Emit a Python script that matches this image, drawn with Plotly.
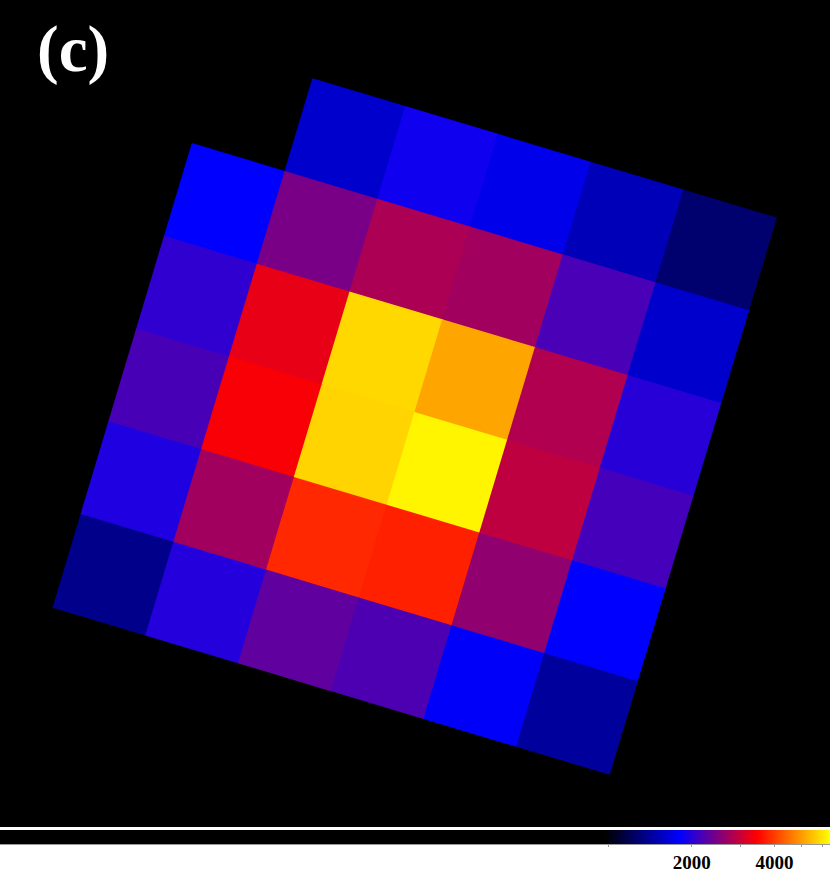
import numpy as np
import plotly.graph_objects as go

# counts per detector pixel, row 0 is the top row, None = no pixel
row0 = [None, 1600, 1880, 1720, 1520, 1270]
row1 = [1810, 2460, 2790, 2720, 2180, 1600]
row2 = [2040, 3260, 5800, 5130, 2830, 2000]
row3 = [2170, 3400, 5740, 6220, 2940, 2150]
row4 = [1960, 2720, 3800, 3730, 2610, 1810]
row5 = [1360, 1980, 2310, 2200, 1790, 1420]

cbar_ticks = [1000, 2000, 3000, 4000, 5000, 6000]
cbar_labels = ["", "2000", "", "4000", "", ""]
cbar_range = [6.1, 6370]

W, H = 830, 873
img_bottom = 827          # black image area ends here (px)
cell_px = 96.8            # size of one detector pixel on screen
angle = 16.7              # roll of the detector grid, clockwise
origin = (220, 51)        # screen position of the grid corner
serif = "Liberation Serif, Times New Roman, serif"

# ds9 "b" colormap, stretched by the contrast setting
cmap = [[0.0, "#000000"], [0.729, "#000000"], [0.819, "#0000ff"],
        [0.912, "#ff0000"], [1.0, "#ffff00"]]

rows = [row0, row1, row2, row3, row4, row5]
th = np.radians(angle)
xs, ys, vals = [], [], []
for r, row in enumerate(rows):
    for c, v in enumerate(row):
        if v is None:
            continue
        xs.append((c + 0.5) * np.cos(th) - (r + 0.5) * np.sin(th))
        ys.append((c + 0.5) * np.sin(th) + (r + 0.5) * np.cos(th))
        vals.append(np.log10(v))

fig = go.Figure()
fig.add_trace(go.Scatter(
    x=xs, y=ys, mode="markers", hoverinfo="skip",
    marker=dict(
        symbol="square", size=cell_px + 1, angle=angle,
        color=vals, colorscale=cmap,
        cmin=np.log10(cbar_range[0]), cmax=np.log10(cbar_range[1]),
        line=dict(width=0),
        showscale=True,
        colorbar=dict(
            orientation="h", x=0, xanchor="left",
            y=(H - 830) / H, yanchor="top",
            len=W, lenmode="pixels", thickness=14,
            xpad=0, ypad=0, outlinewidth=0,
            tickvals=list(np.log10(cbar_ticks)), ticktext=cbar_labels,
            ticks="outside", ticklen=3, tickwidth=1, tickcolor="#999999",
            tickfont=dict(family=serif, size=19, color="black", weight="bold"),
        ),
    ),
))

fig.add_shape(type="line", xref="paper", yref="paper",
              x0=0, x1=1, y0=(H - 844.5) / H, y1=(H - 844.5) / H,
              line=dict(color="#999999", width=1))

fig.add_annotation(text="(c)", xref="paper", yref="paper",
                   x=35 / W, y=1 - 49 / H, xanchor="left", yanchor="middle",
                   showarrow=False,
                   font=dict(family=serif, size=65, color="white", weight="bold"))

fig.update_xaxes(range=[-origin[0] / cell_px, (W - origin[0]) / cell_px], visible=False)
fig.update_yaxes(range=[(img_bottom - origin[1]) / cell_px, -origin[1] / cell_px],
                 domain=[(H - img_bottom) / H, 1], visible=False)
fig.update_layout(width=W, height=H,
                  margin=dict(l=0, r=0, t=0, b=0, autoexpand=False),
                  paper_bgcolor="white", plot_bgcolor="black", showlegend=False)

fig.write_html("out.html", config={"displayModeBar": False},
               post_script="document.body.style.margin = '0';")
